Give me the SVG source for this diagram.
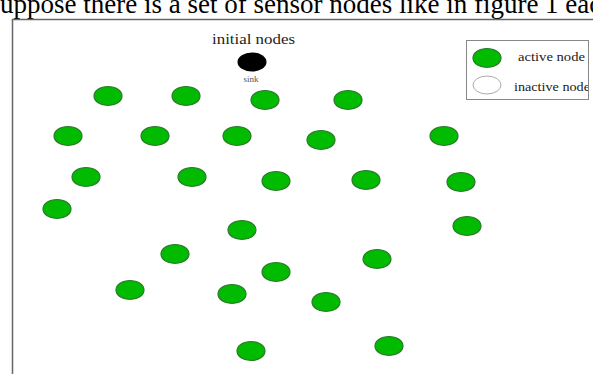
<svg xmlns="http://www.w3.org/2000/svg" width="593" height="374" viewBox="0 0 593 374">
<style>
.n{fill:#00bb00;stroke:#2a7a2a;stroke-width:1.2}
.t{font-family:"Liberation Serif","Times New Roman",serif;fill:#222}
</style>
<rect width="593" height="374" fill="#fff"/>
<text x="0" y="13" font-family="Liberation Serif, serif" font-size="27" fill="#000">uppose there is a set of sensor nodes like in figure 1 each</text>
<path d="M12.5 374V19.5H593" fill="none" stroke="#666" stroke-width="1.5"/>
<g id="title"><text class="t" x="212" y="44" font-size="14" textLength="83" lengthAdjust="spacingAndGlyphs">initial nodes</text></g>
<g id="sink"><ellipse cx="252" cy="62" rx="14.5" ry="9.5" fill="#000"/><text x="251" y="82" font-family="Liberation Serif, serif" font-size="9" fill="#555" text-anchor="middle">sink</text></g>
<g id="legend">
<rect x="466.5" y="40.5" width="122" height="59" fill="#fff"/>
<ellipse class="n" cx="487" cy="58" rx="14" ry="9.5"/>
<text class="t" x="518" y="61" font-size="12" textLength="67" lengthAdjust="spacingAndGlyphs">active node</text>
<ellipse cx="487" cy="85" rx="14" ry="9" fill="#fff" stroke="#aaa"/>
<text class="t" x="514" y="91" font-size="12" textLength="76" lengthAdjust="spacingAndGlyphs">inactive node</text>
<rect x="589" y="40" width="4" height="61" fill="#fff"/>
<rect x="466.5" y="40.5" width="122" height="59" fill="none" stroke="#888"/>
</g>
<g id="nodes">
<ellipse id="n1" class="n" cx="108" cy="96" rx="14" ry="9.5"/>
<ellipse id="n2" class="n" cx="186" cy="96" rx="14" ry="9.5"/>
<ellipse id="n3" class="n" cx="265" cy="100" rx="14" ry="9.5"/>
<ellipse id="n4" class="n" cx="348" cy="100" rx="14" ry="9.5"/>
<ellipse id="n5" class="n" cx="68" cy="136" rx="14" ry="9.5"/>
<ellipse id="n6" class="n" cx="155" cy="136" rx="14" ry="9.5"/>
<ellipse id="n7" class="n" cx="237" cy="136" rx="14" ry="9.5"/>
<ellipse id="n8" class="n" cx="321" cy="140" rx="14" ry="9.5"/>
<ellipse id="n9" class="n" cx="444" cy="136" rx="14" ry="9.5"/>
<ellipse id="n10" class="n" cx="86" cy="177" rx="14" ry="9.5"/>
<ellipse id="n11" class="n" cx="192" cy="177" rx="14" ry="9.5"/>
<ellipse id="n12" class="n" cx="276" cy="181" rx="14" ry="9.5"/>
<ellipse id="n13" class="n" cx="366" cy="180" rx="14" ry="9.5"/>
<ellipse id="n14" class="n" cx="461" cy="182" rx="14" ry="9.5"/>
<ellipse id="n15" class="n" cx="57" cy="209" rx="14" ry="9.5"/>
<ellipse id="n16" class="n" cx="242" cy="230" rx="14" ry="9.5"/>
<ellipse id="n17" class="n" cx="467" cy="226" rx="14" ry="9.5"/>
<ellipse id="n18" class="n" cx="175" cy="254" rx="14" ry="9.5"/>
<ellipse id="n19" class="n" cx="377" cy="259" rx="14" ry="9.5"/>
<ellipse id="n20" class="n" cx="276" cy="272" rx="14" ry="9.5"/>
<ellipse id="n21" class="n" cx="130" cy="290" rx="14" ry="9.5"/>
<ellipse id="n22" class="n" cx="232" cy="294" rx="14" ry="9.5"/>
<ellipse id="n23" class="n" cx="326" cy="302" rx="14" ry="9.5"/>
<ellipse id="n24" class="n" cx="251" cy="351" rx="14" ry="9.5"/>
<ellipse id="n25" class="n" cx="389" cy="346" rx="14" ry="9.5"/>
</g>
<g id="connectors"/>
</svg>
